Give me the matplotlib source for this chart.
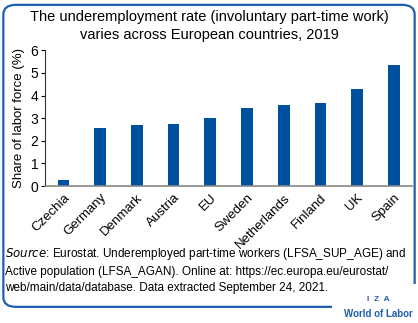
import matplotlib.pyplot as plt
from matplotlib.patches import FancyBboxPatch

countries = ['Czechia', 'Germany', 'Denmark', 'Austria', 'EU', 'Sweden',
             'Netherlands', 'Finland', 'UK', 'Spain']
rates = [0.27, 2.55, 2.7, 2.75, 3.0, 3.45, 3.6, 3.68, 4.3, 5.35]

blue = '#0050a0'
frame_blue = '#1f5fae'
plt.rcParams['font.family'] = ['Liberation Sans', 'DejaVu Sans']

fig = plt.figure(figsize=(4.18, 3.23), dpi=100)

# rounded frame
frame = FancyBboxPatch((0.008, 0.05), 0.984, 0.935,
                       boxstyle='round,pad=0,rounding_size=0.03',
                       transform=fig.transFigure, fill=False,
                       edgecolor=frame_blue, linewidth=1.6)
fig.patches.append(frame)
# gap in the frame for the logo
fig.patches.append(plt.Rectangle((0.795, 0.02), 0.21, 0.1, transform=fig.transFigure,
                                 facecolor='white', edgecolor='none'))

fig.text(0.5, 0.968, 'The underemployment rate (involuntary part-time work)\n'
         'varies across European countries, 2019',
         ha='center', va='top', fontsize=10.5, linespacing=1.3)

ax = fig.add_axes([0.108, 0.424, 0.878, 0.42])
ax.bar(range(len(countries)), rates, width=0.32, color=blue)
ax.set_xlim(-0.5, len(countries) - 0.5)
ax.set_ylim(0, 6)
ax.set_yticks(range(7))
ax.set_xticks(range(len(countries)))
ax.set_xticklabels(countries, rotation=45, ha='right', rotation_mode='anchor', fontsize=9.5)
ax.tick_params(axis='y', labelsize=10, length=3, width=0.8, pad=2)
ax.tick_params(axis='x', length=0, pad=4)
ax.set_ylabel('Share of labor force (%)', fontsize=9.5, labelpad=4)
ax.spines['top'].set_visible(False)
ax.spines['right'].set_visible(False)
ax.spines['left'].set_color('#333333')
ax.spines['bottom'].set_color('#888888')
ax.spines['bottom'].set_linewidth(1.2)

fig.text(0.012, 0.238, r'$\it{Source}$: Eurostat. Underemployed part-time workers (LFSA_SUP_AGE) and'
         '\nActive population (LFSA_AGAN). Online at: https://ec.europa.eu/eurostat/'
         '\nweb/main/data/database. Data extracted September 24, 2021.',
         ha='left', va='top', fontsize=8.5, linespacing=1.45)

fig.text(0.905, 0.072, 'I  Z  A', ha='center', va='center', fontsize=6,
         color=frame_blue, fontweight='bold')
fig.text(0.905, 0.028, 'World of Labor', ha='center', va='center', fontsize=7,
         color=frame_blue, fontweight='bold')

fig.savefig('out.png', dpi=100)
